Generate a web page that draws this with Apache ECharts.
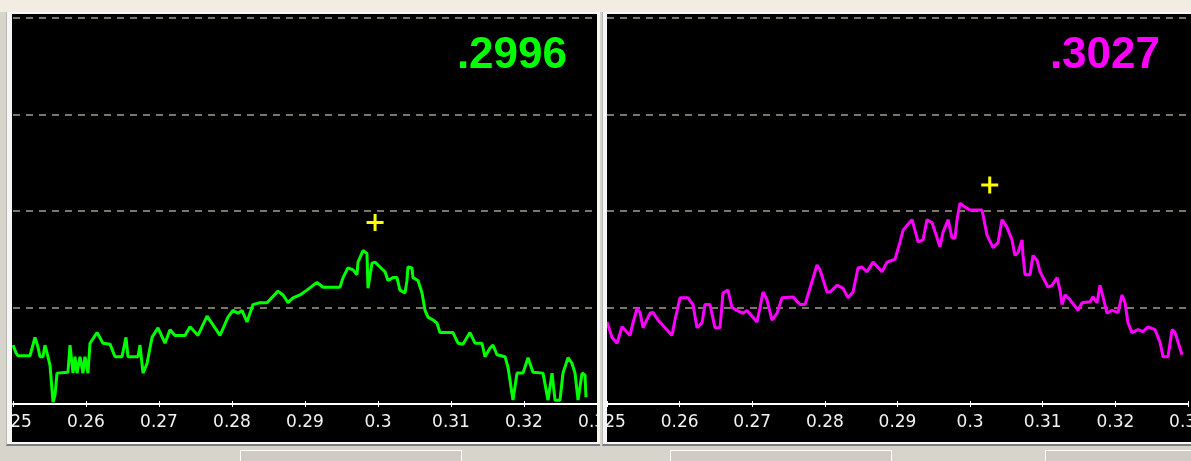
<!DOCTYPE html>
<html>
<head>
<meta charset="utf-8">
<script src="https://cdn.jsdelivr.net/npm/echarts@6/dist/echarts.min.js"></script>
<style>
  html, body { margin: 0; padding: 0; width: 1191px; height: 461px; overflow: hidden; background: #d7d4cc; position: relative; }
  #topStrip { position: absolute; left: 0; top: 0; width: 1191px; height: 12px; background: #f1ede3; }
  .frame { position: absolute; top: 12px; height: 432px; background: #f6f6f6; border-bottom: 2px solid #7c7c7c; }
  #frameA { left: 6px; width: 593px; border-left: 1px solid #b8b8b8; }
  #frameB { left: 602px; width: 589px; border-left: 1px solid #b8b8b8; }
  .plot { position: absolute; top: 14px; height: 428px; background: #000; }
  #sweepA { left: 12px; width: 585px; }
  #sweepB { left: 607px; width: 584px; }
  .tab { position: absolute; top: 450px; height: 11px; border: 1px solid #ffffff; border-bottom: none; background: #cfcbc2; }
</style>
</head>
<body>
<div id="topStrip"></div>
<div class="frame" id="frameA"></div>
<div class="frame" id="frameB"></div>
<div class="plot" id="sweepA"></div>
<div class="plot" id="sweepB"></div>
<div class="tab" style="left:240px;width:220px;"></div>
<div class="tab" style="left:670px;width:220px;"></div>
<div class="tab" style="left:1045px;width:146px;"></div>
<script>
// Frequency axis (same for both sweeps)
const X_MIN = 0.25, X_MAX = 0.33, X_STEP = 0.01;
// Amplitude axis (arbitrary units, four grid bands)
const Y_MIN = 0, Y_MAX = 400, Y_STEP = 100;

// Left sweep: [frequency, amplitude]
const greenSweep = [
  [0.2500,61],[0.25041,53],[0.25068,50],[0.25233,50],[0.25301,69],[0.25342,59],[0.2537,49],[0.25411,49],
  [0.25438,61],[0.25479,49],[0.25507,40],[0.25548,2],[0.25575,9],[0.25603,32],[0.25753,33],[0.25781,61],
  [0.25822,32],[0.25849,49],[0.25877,32],[0.25918,49],[0.25959,32],[0.25986,49],[0.26027,32],[0.26055,63],
  [0.26151,74],[0.26233,63],[0.26329,62],[0.26397,49],[0.26493,49],[0.26548,69],[0.26575,49],[0.26712,49],
  [0.2674,61],[0.26781,32],[0.26836,42],[0.26904,69],[0.26986,79],[0.27082,63],[0.27151,77],[0.27219,71],
  [0.27356,71],[0.27425,80],[0.27534,71],[0.27658,91],[0.2774,82],[0.27836,71],[0.27945,90],[0.28014,97],
  [0.28082,94],[0.28137,97],[0.28205,85],[0.28288,103],[0.28384,105],[0.28479,105],[0.2863,117],[0.28699,113],
  [0.28767,105],[0.28836,110],[0.28932,113],[0.29027,118],[0.29164,126],[0.29247,121],[0.29479,121],[0.29521,131],
  [0.29589,141],[0.29658,139],[0.29712,134],[0.29726,147],[0.29795,159],[0.29849,156],[0.29863,120],[0.2989,120],
  [0.29918,146],[0.29959,147],[0.30027,142],[0.30096,137],[0.30137,128],[0.30205,131],[0.3026,131],[0.30301,118],
  [0.3037,115],[0.30397,128],[0.30411,142],[0.30466,141],[0.30479,131],[0.30548,128],[0.30603,115],[0.30644,97],
  [0.30685,90],[0.30753,87],[0.30808,84],[0.30849,74],[0.31027,74],[0.31096,63],[0.31164,62],[0.3126,74],
  [0.31329,63],[0.31425,63],[0.31466,49],[0.31534,58],[0.31575,61],[0.3163,51],[0.3174,49],[0.31781,38],
  [0.31849,4],[0.31904,32],[0.31986,32],[0.32055,48],[0.32123,33],[0.3226,32],[0.32329,4],[0.32384,32],
  [0.32425,4],[0.32493,4],[0.32534,32],[0.32603,48],[0.32658,42],[0.32699,32],[0.3274,4],[0.32795,32],
  [0.32836,30],[0.32849,7]
];

// Right sweep: [frequency, amplitude]
const magentaSweep = [
  [0.25,85],[0.25069,69],[0.25138,63],[0.25207,80],[0.25317,71],[0.25358,84],[0.25413,99],[0.25454,95],
  [0.25496,79],[0.25592,94],[0.25633,95],[0.25702,87],[0.25799,79],[0.25895,71],[0.25936,87],[0.26005,110],
  [0.26115,110],[0.26184,103],[0.26239,79],[0.26308,84],[0.26349,103],[0.26418,103],[0.26487,79],[0.26556,79],
  [0.26597,115],[0.26666,118],[0.26721,100],[0.2679,97],[0.26873,94],[0.26928,97],[0.27066,85],[0.27107,100],
  [0.27148,116],[0.27203,108],[0.27272,87],[0.27341,94],[0.2741,110],[0.27561,111],[0.27658,103],[0.27727,103],
  [0.27795,120],[0.27892,144],[0.27933,139],[0.28029,116],[0.28071,116],[0.28167,123],[0.2825,120],[0.28319,110],
  [0.28388,116],[0.28456,141],[0.28511,142],[0.2858,137],[0.28663,147],[0.28787,137],[0.28856,147],[0.28966,150],
  [0.28993,150],[0.29035,168],[0.29076,180],[0.292,191],[0.29241,180],[0.29283,168],[0.29351,170],[0.29406,191],
  [0.29475,188],[0.29585,163],[0.29627,178],[0.29696,191],[0.29751,172],[0.29792,172],[0.2982,191],[0.29861,208],
  [0.2993,204],[0.29999,201],[0.30164,201],[0.30233,175],[0.30315,162],[0.30384,167],[0.30439,191],[0.30508,183],
  [0.30577,170],[0.30618,154],[0.3066,157],[0.30715,170],[0.30728,154],[0.30756,134],[0.30825,134],[0.30866,154],
  [0.30921,149],[0.30963,137],[0.31073,121],[0.31128,123],[0.31197,131],[0.31238,118],[0.31266,103],[0.31307,113],
  [0.31376,108],[0.31486,97],[0.31541,105],[0.31651,106],[0.31692,111],[0.31747,105],[0.31789,123],[0.3183,111],
  [0.31885,94],[0.31954,97],[0.32037,95],[0.32092,113],[0.32133,105],[0.32174,84],[0.32229,74],[0.32312,77],
  [0.32381,75],[0.3245,80],[0.32546,77],[0.32615,64],[0.32656,49],[0.32725,49],[0.32781,77],[0.32822,74],
  [0.32863,64],[0.32918,51]
];

// Peak readouts (frequency shown as text, cursor drawn at it)
const peakX = [0.2996, 0.3027];
const peakY = [188, 227];

const PLUS = 'path://M7,0h3v7h7v3h-7v7h-3v-7h-7v-3h7z';

function sweepOption(data, color, px, py, gridLeft, gridWidth, textRight) {
  const axisBase = { type: 'value', min: X_MIN, max: X_MAX, interval: X_STEP, splitLine: { show: false } };
  return {
    animation: false,
    backgroundColor: '#000000',
    grid: {
      left: gridLeft, top: 4, width: gridWidth, height: 386,
      containLabel: false, outerBoundsMode: 'none'
    },
    xAxis: [
      Object.assign({}, axisBase, {
        axisLine: { lineStyle: { color: '#ffffff', width: 2 } },
        axisTick: { length: 3, lineStyle: { color: '#ffffff', width: 1 } },
        axisLabel: {
          color: '#f2f2f2', fontSize: 17, fontFamily: 'DejaVu Sans', margin: 10,
          showMinLabel: true, showMaxLabel: true, hideOverlap: false,
          formatter: v => String(+v.toFixed(2))
        }
      }),
      Object.assign({}, axisBase, {
        position: 'bottom',
        axisLine: { show: false },
        axisTick: { inside: true, length: 3, lineStyle: { color: '#ffffff', width: 1 } },
        axisLabel: { show: false }
      })
    ],
    yAxis: {
      type: 'value', min: Y_MIN, max: Y_MAX, interval: Y_STEP,
      axisLine: { show: false }, axisTick: { show: false }, axisLabel: { show: false },
      splitLine: { lineStyle: { type: [7, 6], color: '#a29e88', width: 1.5 } }
    },
    series: [
      {
        type: 'line', data: data, showSymbol: false, clip: false, z: 3,
        lineStyle: { color: color, width: 3, join: 'bevel' }, itemStyle: { color: color }
      },
      {
        type: 'scatter', data: [[px, py]], symbol: PLUS, symbolSize: 17, z: 4,
        itemStyle: { color: '#ffff00', opacity: 1 }
      }
    ],
    graphic: [{
      type: 'text', right: textRight, top: 20, z: 10,
      style: {
        text: '.' + Math.round(px * 10000),
        font: 'bold 44px "Liberation Sans"',
        fill: color
      }
    }]
  };
}

const chartA = echarts.init(document.getElementById('sweepA'), null, { renderer: 'canvas' });
chartA.setOption(sweepOption(greenSweep, '#00ff00', peakX[0], peakY[0], 1, 584, 30));

const chartB = echarts.init(document.getElementById('sweepB'), null, { renderer: 'canvas' });
chartB.setOption(sweepOption(magentaSweep, '#ff00ff', peakX[1], peakY[1], 0, 581, 31));
</script>
</body>
</html>
